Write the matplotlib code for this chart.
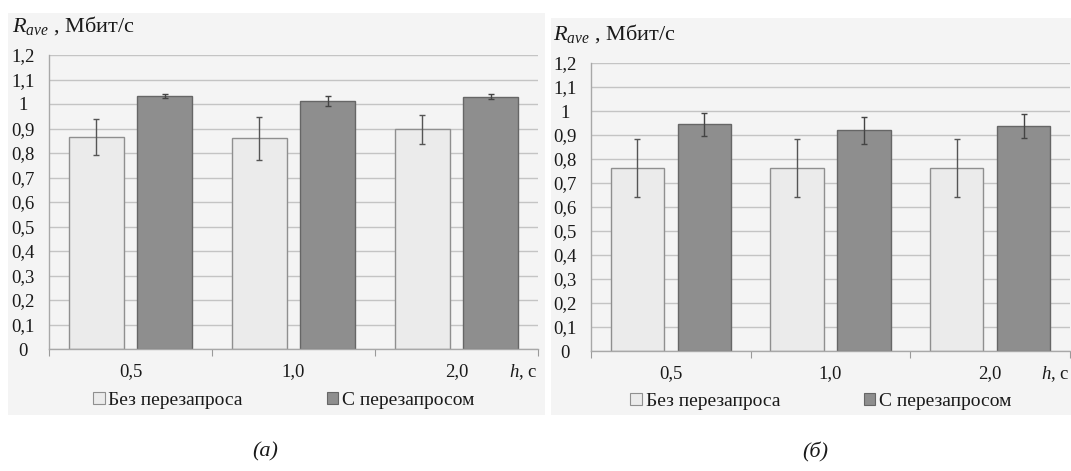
import matplotlib
matplotlib.use("Agg")
import matplotlib.pyplot as plt
from matplotlib.patches import Rectangle, Patch
import numpy as np

plt.rcParams['font.family'] = ['Liberation Serif', 'DejaVu Serif']
plt.rcParams['mathtext.fontset'] = 'custom'
plt.rcParams['mathtext.rm'] = 'Liberation Serif'
plt.rcParams['mathtext.it'] = 'Liberation Serif:italic'

# data
categories = ['0,5', '1,0', '2,0']
series_names = ['Без перезапроса', 'С перезапросом']

a_no = [0.864, 0.860, 0.897]
a_no_err = [0.073, 0.087, 0.059]
a_yes = [1.033, 1.012, 1.029]
a_yes_err = [0.009, 0.020, 0.010]

b_no = [0.763, 0.763, 0.763]
b_no_err = [0.122, 0.122, 0.122]
b_yes = [0.944, 0.920, 0.938]
b_yes_err = [0.048, 0.056, 0.050]

yticks = [0, 0.1, 0.2, 0.3, 0.4, 0.5, 0.6, 0.7, 0.8, 0.9, 1.0, 1.1, 1.2]
ytick_labels = ['0', '0,1', '0,2', '0,3', '0,4', '0,5', '0,6', '0,7', '0,8', '0,9', '1', '1,1', '1,2']

W, H = 1071, 471
PANEL_BG = '#f4f4f4'
LIGHT = '#ebebeb'
LIGHT_EDGE = '#8f8f8f'
DARK = '#8e8e8e'
DARK_EDGE = '#666666'
GRID = '#c4c4c4'
TXT = '#1a1a1a'
FS = 13.5

fig = plt.figure(figsize=(W / 100, H / 100), dpi=100)


def px_box(x0, y0, x1, y1):
    # pixel box (top-left origin) -> figure fraction rect
    return [x0 / W, (H - y1) / H, (x1 - x0) / W, (y1 - y0) / H]


def draw_panel(panel, axbox, no, no_err, yes, yes_err, label_xy, caption, cap_x):
    r = px_box(*panel)
    fig.patches.append(Rectangle((r[0], r[1]), r[2], r[3], transform=fig.transFigure,
                                 facecolor=PANEL_BG, edgecolor='none', zorder=-10))
    ax = fig.add_axes(px_box(*axbox))
    ax.set_facecolor('none')

    x = np.arange(len(categories))
    bw = 0.334
    off = 0.209
    ax.bar(x - off, no, bw, color=LIGHT, edgecolor=LIGHT_EDGE, linewidth=1, zorder=2)
    ax.bar(x + off, yes, bw, color=DARK, edgecolor=DARK_EDGE, linewidth=1, zorder=2)
    ax.errorbar(x - off, no, yerr=no_err, fmt='none', ecolor='#555555',
                elinewidth=1, capsize=2, capthick=1, zorder=3)
    ax.errorbar(x + off, yes, yerr=yes_err, fmt='none', ecolor='#444444',
                elinewidth=1, capsize=2, capthick=1, zorder=3)

    ax.set_ylim(0, 1.2)
    ax.set_xlim(-0.5, len(categories) - 0.5)
    ax.set_yticks(yticks)
    ax.set_yticklabels(ytick_labels)
    ax.yaxis.grid(True, color=GRID, linewidth=1)
    ax.set_axisbelow(True)
    ax.tick_params(axis='y', length=0, pad=19, labelsize=FS, labelcolor=TXT)
    for lab in ax.get_yticklabels():
        lab.set_horizontalalignment('center')

    # tick marks between categories, labels at centres
    ax.set_xticks(np.arange(len(categories) + 1) - 0.5)
    ax.set_xticklabels([])
    ax.tick_params(axis='x', which='major', length=5, color='#9a9a9a', direction='out')
    ax.set_xticks(x, minor=True)
    ax.set_xticklabels(categories, minor=True)
    ax.tick_params(axis='x', which='minor', length=0, pad=10, labelsize=FS, labelcolor=TXT)

    for s in ['top', 'right']:
        ax.spines[s].set_visible(False)
    for s in ['left', 'bottom']:
        ax.spines[s].set_color('#a8a8a8')
        ax.spines[s].set_linewidth(1)

    ax.annotate('$h$, с', xy=(1, 0), xycoords='axes fraction', xytext=(0, -23),
                textcoords='offset pixels', ha='right', va='center', fontsize=FS, color=TXT)
    fig.text(label_xy[0] / W, 1 - label_xy[1] / H, '$R_{ave}$ , Мбит/с',
             ha='left', va='center', fontsize=16, color=TXT)

    handles = [Patch(facecolor=LIGHT, edgecolor=LIGHT_EDGE, linewidth=0.8),
               Patch(facecolor=DARK, edgecolor=DARK_EDGE, linewidth=0.8)]
    ax.legend(handles, series_names, loc='center', ncol=2, frameon=False,
              bbox_to_anchor=(0.48, -0.175), fontsize=14, handlelength=0.6,
              handleheight=0.6, handletextpad=0.2, columnspacing=4.3,
              labelcolor=TXT)

    fig.text(cap_x / W, 1 - 452 / H, caption, ha='center', va='center',
             fontsize=16, style='italic', color=TXT)
    return ax


draw_panel((8, 13, 545, 415), (49, 55, 538, 349), a_no, a_no_err, a_yes, a_yes_err,
           (12, 26), '(а)', 265)
draw_panel((551, 18, 1071, 415), (591, 63, 1070, 351), b_no, b_no_err, b_yes, b_yes_err,
           (553, 34), '(б)', 815)

fig.savefig('out.png', dpi=100, facecolor='white')
